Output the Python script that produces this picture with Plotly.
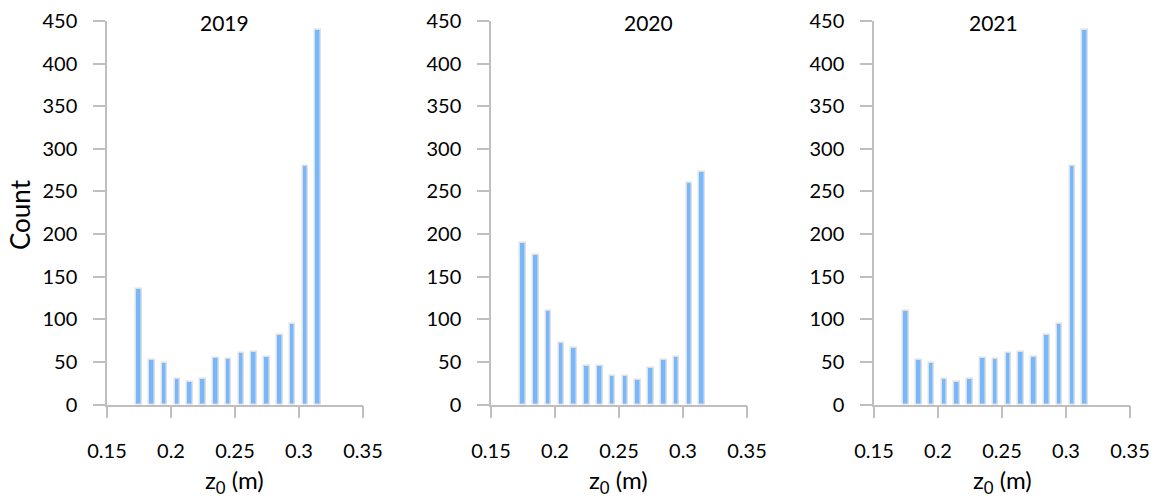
import plotly.graph_objects as go

# Bin centres of z0 (m)
bin_centers = [0.175, 0.185, 0.195, 0.205, 0.215, 0.225, 0.235, 0.245,
               0.255, 0.265, 0.275, 0.285, 0.295, 0.305, 0.315]

years = ["2019", "2020", "2021"]
counts_2019 = [135, 52, 49, 30, 26, 30, 55, 53, 60, 62, 56, 82, 95, 280, 439]
counts_2020 = [190, 175, 110, 72, 66, 45, 45, 34, 34, 29, 43, 52, 56, 260, 273]
counts_2021 = [110, 52, 49, 30, 26, 30, 55, 53, 60, 62, 56, 82, 95, 280, 439]
series = [counts_2019, counts_2020, counts_2021]

x_ticks = [0.15, 0.2, 0.25, 0.3, 0.35]
x_tick_text = ["0.15", "0.2", "0.25", "0.3", "0.35"]
y_ticks = list(range(0, 451, 50))

# per-panel title x positions (data units)
title_x = [0.242, 0.2727, 0.2437]

W, H = 1151, 497
x_domains = [[107 / W, 363 / W], [491 / W, 747 / W], [874 / W, 1130 / W]]
y_domain = [1 - 404.5 / H, 1 - 21 / H]

FONT = "Lato"
BAR_FILL = "#76B8FE"
BAR_LINE = "#E0E0E0"
AXIS_COL = "#BFBFBF"

fig = go.Figure()
for i, (yr, vals) in enumerate(zip(years, series)):
    sfx = "" if i == 0 else str(i + 1)
    fig.add_trace(go.Bar(
        x=bin_centers, y=vals, width=0.0045,
        marker=dict(color=BAR_FILL, line=dict(color=BAR_LINE, width=1.5)),
        xaxis="x" + sfx, yaxis="y" + sfx, showlegend=False, name=yr,
    ))
    fig.update_layout(**{
        "xaxis" + sfx: dict(
            domain=x_domains[i], anchor="y" + sfx, range=[0.15, 0.35],
            tickvals=x_ticks, ticktext=x_tick_text, showgrid=False, zeroline=False,
            showline=True, linecolor=AXIS_COL, linewidth=1.5, automargin=False,
            ticks="outside", ticklen=12, tickcolor=AXIS_COL, tickwidth=1.5,
            tickfont=dict(family=FONT, size=20, color="#000"),
            ticklabelstandoff=16,
        ),
        "yaxis" + sfx: dict(
            domain=y_domain, anchor="x" + sfx, range=[0, 450],
            tickvals=y_ticks, showgrid=False, zeroline=False,
            showline=True, linecolor=AXIS_COL, linewidth=1.5, automargin=False,
            ticks="outside", ticklen=12, tickcolor=AXIS_COL, tickwidth=1.5,
            tickfont=dict(family=FONT, size=20, color="#000"),
            ticklabelstandoff=12,
        ),
    })
    fig.add_annotation(text=yr, x=title_x[i], xref="x" + sfx, y=1 - 23 / H, yref="paper",
                       showarrow=False, font=dict(family=FONT, size=21, color="#000"),
                       xanchor="center", yanchor="middle")
    cx = (x_domains[i][0] + x_domains[i][1]) / 2
    fig.add_annotation(text="z<sub>0</sub> (m)", x=cx, xref="paper", y=1 - 481 / H, yref="paper",
                       showarrow=False, font=dict(family=FONT, size=24, color="#000"),
                       xanchor="center", yanchor="middle")

fig.add_annotation(text="Count", x=20 / W, xref="paper", y=1 - 215 / H, yref="paper",
                   showarrow=False, textangle=-90, font=dict(family=FONT, size=26, color="#000"),
                   xanchor="center", yanchor="middle")

fig.update_layout(
    template="none",
    width=W, height=H, margin=dict(l=0, r=0, t=0, b=0, autoexpand=False),
    paper_bgcolor="white", plot_bgcolor="white", bargap=0,
)
fig.write_html("out.html")
